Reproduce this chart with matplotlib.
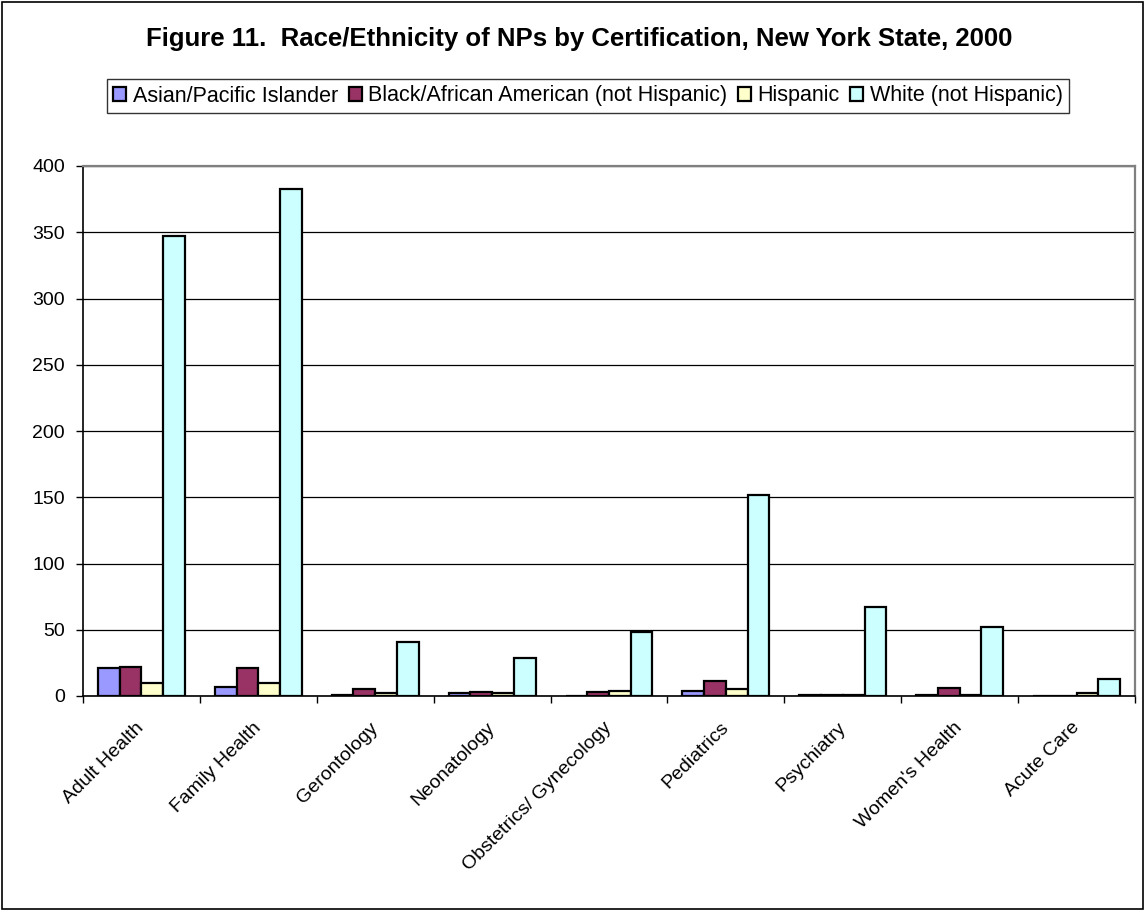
import matplotlib.pyplot as plt
import numpy as np
from matplotlib.patches import Rectangle

plt.rcParams['font.family'] = ['Liberation Sans', 'DejaVu Sans']

categories = ["Adult Health", "Family Health", "Gerontology", "Neonatology",
              "Obstetrics/ Gynecology", "Pediatrics", "Psychiatry",
              "Women's Health", "Acute Care"]
series = ["Asian/Pacific Islander", "Black/African American (not Hispanic)",
          "Hispanic", "White (not Hispanic)"]
asian = [21, 7, 1, 2, 0, 4, 1, 1, 0]
black = [22, 21, 5, 3, 3, 11, 1, 6, 0]
hispanic = [10, 10, 2, 2, 4, 5, 1, 1, 2]
white = [347, 383, 41, 29, 48, 152, 67, 52, 13]
colors = ["#9999FF", "#993366", "#FFFFCC", "#CCFFFF"]
yticks = list(range(0, 401, 50))

fig = plt.figure(figsize=(11.45, 9.11), dpi=100)
ax = fig.add_axes([83 / 1145, 1 - 696 / 911, 1052 / 1145, 530 / 911])

x = np.arange(len(categories))
w = 0.186
for i, (vals, name) in enumerate(zip([asian, black, hispanic, white], series)):
    ax.bar(x + (i - 1.5) * w, vals, w, color=colors[i], edgecolor="black",
           linewidth=1.6, label=name, zorder=3)

ax.set_xlim(-0.5, len(categories) - 0.5)
ax.set_ylim(0, 400)
ax.set_yticks(yticks)
ax.tick_params(axis="y", labelsize=14, direction="out", length=5, width=1, pad=8)
ax.yaxis.grid(True, color="black", linewidth=0.9, zorder=0)

ax.set_xticks(x)
ax.set_xticklabels(categories, rotation=45, ha="right", rotation_mode="anchor",
                   fontsize=14)
for lab in ax.get_xticklabels():
    lab.set_va("center")
ax.tick_params(axis="x", which="major", length=0, pad=21)
ax.set_xticks(np.arange(-0.5, len(categories), 1), minor=True)
ax.tick_params(axis="x", which="minor", direction="out", length=5, width=1)

for side in ["top", "right"]:
    ax.spines[side].set_color("#808080")
    ax.spines[side].set_linewidth(1.6)
for side in ["left", "bottom"]:
    ax.spines[side].set_color("black")
    ax.spines[side].set_linewidth(1.2)

fig.text(579 / 1145, 1 - 39 / 911, "Figure 11.  Race/Ethnicity of NPs by Certification, New York State, 2000",
         ha="center", va="center", fontsize=18.5, fontweight="bold")

leg = fig.legend(loc="center", bbox_to_anchor=(588 / 1145, 1 - 96 / 911), ncol=4,
                 fontsize=15.5, frameon=True, fancybox=False, edgecolor="black",
                 handlelength=0.6, handleheight=0.6, handletextpad=0.3,
                 columnspacing=0.5, borderpad=0.3, borderaxespad=0, shadow=False)
leg.get_frame().set_linewidth(1.0)

fig.patches.append(Rectangle((0.002, 0.002), 0.996, 0.996, transform=fig.transFigure,
                             fill=False, edgecolor="black", linewidth=1.2))

fig.savefig("out.png", dpi=100)
